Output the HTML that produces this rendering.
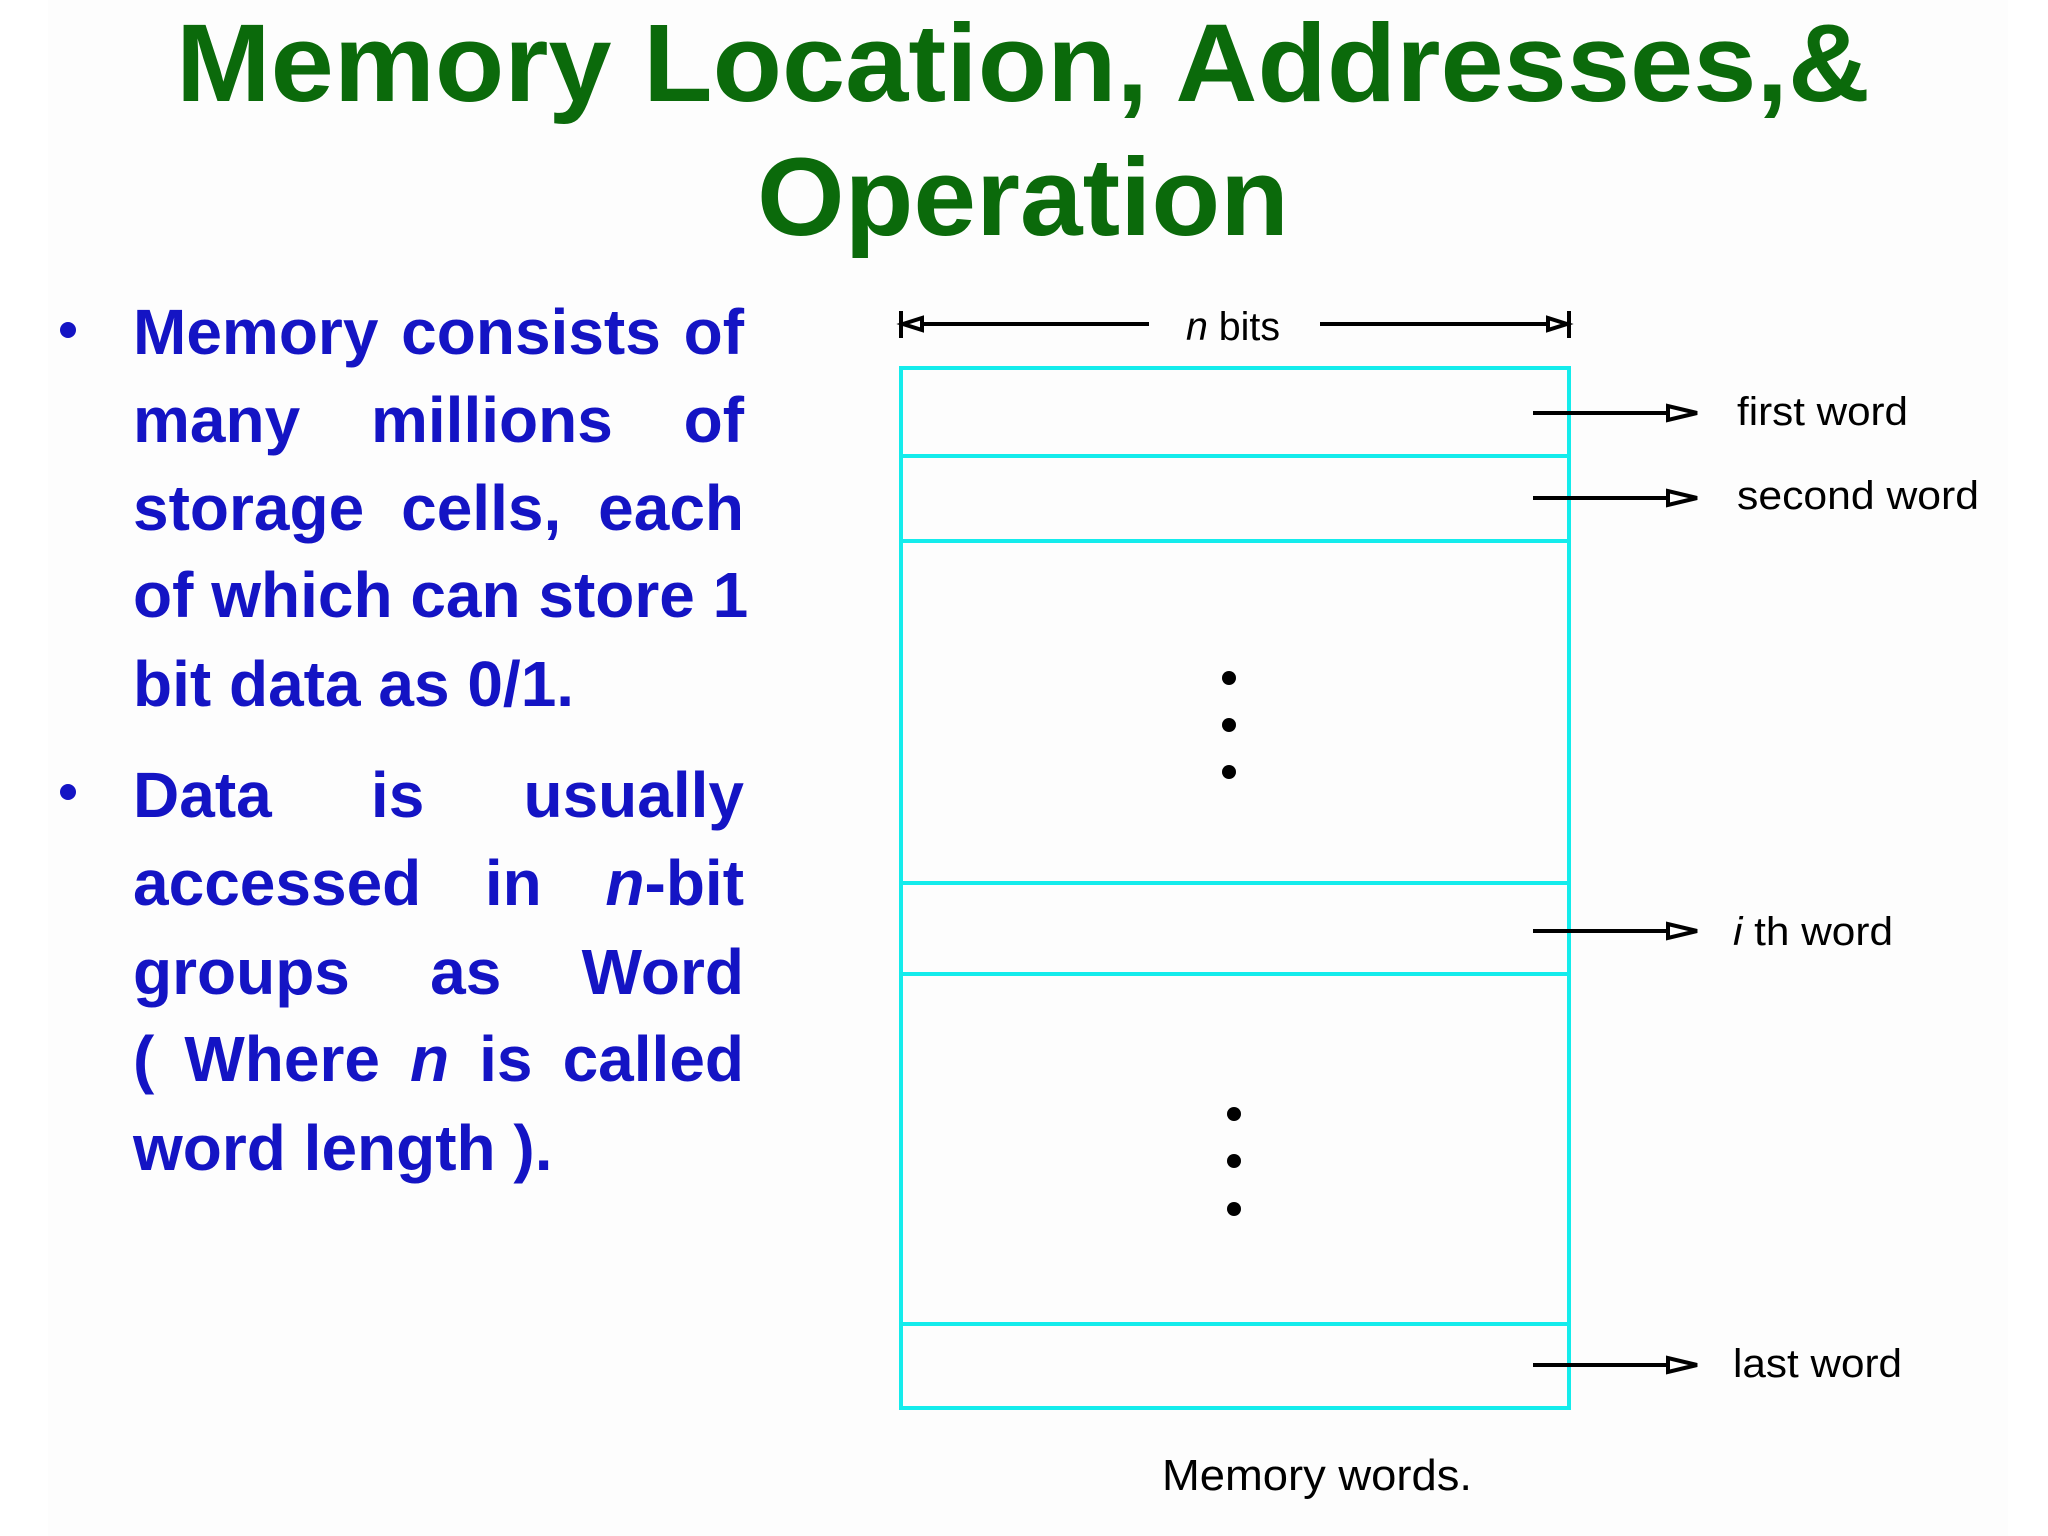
<!DOCTYPE html>
<html><head><meta charset="utf-8"><style>
html,body{margin:0;padding:0;background:#fff;}
svg{display:block;position:absolute;left:0;top:0;}
.l{position:absolute;left:133px;width:611px;font-family:"Liberation Sans",sans-serif;font-weight:bold;font-size:64px;line-height:64px;color:#1414c4;white-space:nowrap;text-align:justify;text-align-last:justify;}
.e{text-align-last:left;}
</style></head><body>
<svg width="2048" height="1536" viewBox="0 0 2048 1536" xmlns="http://www.w3.org/2000/svg">
<rect x="48" y="0" width="1960" height="1536" fill="#fdfdfd"/>
<g font-family="Liberation Sans, sans-serif" font-weight="bold" fill="#0b6a0b">
<text x="176" y="101" font-size="110" textLength="1694" lengthAdjust="spacingAndGlyphs">Memory Location, Addresses,&amp;</text>
<text x="757" y="235" font-size="110" textLength="532" lengthAdjust="spacingAndGlyphs">Operation</text>
</g>
<g fill="#1414c4">
<circle cx="68" cy="330" r="8"/>
<circle cx="68" cy="792" r="8"/>
</g>
<g stroke="#14ecec" stroke-width="4" fill="none">
<rect x="901" y="368" width="668" height="1040"/>
<line x1="901" y1="456" x2="1569" y2="456"/>
<line x1="901" y1="541" x2="1569" y2="541"/>
<line x1="901" y1="883" x2="1569" y2="883"/>
<line x1="901" y1="974" x2="1569" y2="974"/>
<line x1="901" y1="1324" x2="1569" y2="1324"/>
</g>
<g stroke="#000" stroke-width="4" fill="none">
<line x1="901" y1="311" x2="901" y2="338"/>
<line x1="1569" y1="311" x2="1569" y2="338"/>
<line x1="903" y1="324" x2="1149" y2="324"/>
<line x1="1320" y1="324" x2="1567" y2="324"/>
<polygon points="903,324 922,318 922,330" fill="#fff"/>
<polygon points="1567,324 1548,318 1548,330" fill="#fff"/>
<line x1="1533" y1="413" x2="1670" y2="413"/>
<line x1="1533" y1="498" x2="1670" y2="498"/>
<line x1="1533" y1="931" x2="1670" y2="931"/>
<line x1="1533" y1="1365" x2="1670" y2="1365"/>
<polygon points="1697,413 1668,406 1668,420" fill="#fff"/>
<polygon points="1697,498 1668,491 1668,505" fill="#fff"/>
<polygon points="1697,931 1668,924 1668,938" fill="#fff"/>
<polygon points="1697,1365 1668,1358 1668,1372" fill="#fff"/>
</g>
<g fill="#000">
<circle cx="1229" cy="678" r="7"/><circle cx="1229" cy="725" r="7"/><circle cx="1229" cy="772" r="7"/>
<circle cx="1234" cy="1114" r="7"/><circle cx="1234" cy="1161" r="7"/><circle cx="1234" cy="1209" r="7"/>
</g>
<g font-family="Liberation Sans, sans-serif" font-size="40" fill="#000">
<text x="1186" y="340" textLength="94" lengthAdjust="spacingAndGlyphs"><tspan font-style="italic">n</tspan> bits</text>
<text x="1737" y="425" textLength="171" lengthAdjust="spacingAndGlyphs">first word</text>
<text x="1737" y="509" textLength="242" lengthAdjust="spacingAndGlyphs">second word</text>
<text x="1733" y="945" textLength="160" lengthAdjust="spacingAndGlyphs"><tspan font-style="italic">i</tspan> th word</text>
<text x="1733" y="1377" textLength="169" lengthAdjust="spacingAndGlyphs">last word</text>
<text x="1162" y="1490" font-size="44" textLength="310" lengthAdjust="spacingAndGlyphs">Memory words.</text>
</g>
</svg>
<div class="l" style="top:300px">Memory consists of</div>
<div class="l" style="top:388px">many millions of</div>
<div class="l" style="top:476px">storage cells, each</div>
<div class="l" style="top:563px">of which can store 1</div>
<div class="l e" style="top:652px">bit data as 0/1.</div>
<div class="l" style="top:763px">Data is usually</div>
<div class="l" style="top:851px">accessed in <i>n</i>-bit</div>
<div class="l" style="top:940px">groups as Word</div>
<div class="l" style="top:1027px">( Where <i>n</i> is called</div>
<div class="l e" style="top:1116px">word length ).</div>
</body></html>
